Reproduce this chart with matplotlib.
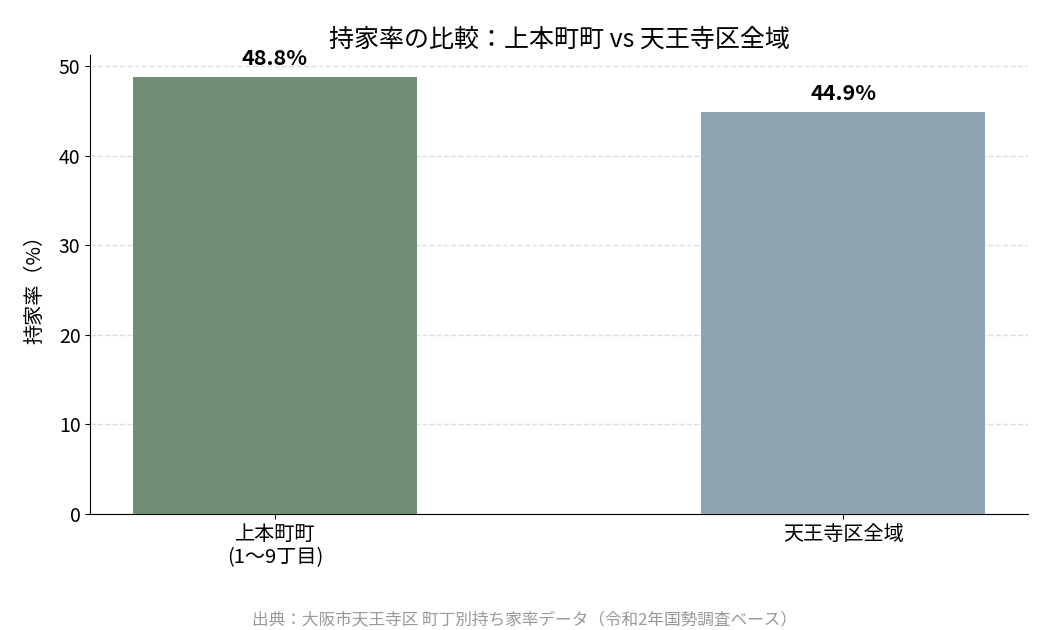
import matplotlib
matplotlib.use('Agg')
import matplotlib.pyplot as plt

plt.rcParams['font.family'] = ['Noto Sans CJK JP', 'DejaVu Sans']

# データ
categories = ['上本町町\n(1〜9丁目)', '天王寺区全域']
rates = [48.8, 44.9]
colors = ['#6f8e74', '#8fa4b2']

fig, ax = plt.subplots(figsize=(10.5, 6.3), dpi=100)

bars = ax.bar(range(len(categories)), rates, width=0.5, color=colors, zorder=3)

# 値ラベル
for b, v in zip(bars, rates):
    ax.text(b.get_x() + b.get_width() / 2, v + 0.9, f'{v}%',
            ha='center', va='bottom', fontsize=15.5, fontweight='bold')

ax.set_xticks(range(len(categories)))
ax.set_xticklabels(categories, fontsize=14.5, linespacing=1.15)
ax.tick_params(axis='y', labelsize=14)
ax.set_ylabel('持家率（%）', fontsize=14.5, labelpad=10)
ax.set_title('持家率の比較：上本町町 vs 天王寺区全域', fontsize=18, pad=6)

ax.yaxis.grid(True, linestyle='--', color='#dddddd', linewidth=1, zorder=0)
ax.spines['top'].set_visible(False)
ax.spines['right'].set_visible(False)

fig.text(0.5, 0.003, '出典：大阪市天王寺区 町丁別持ち家率データ（令和2年国勢調査ベース）',
         ha='center', va='bottom', fontsize=12, color='#999999')

plt.subplots_adjust(left=0.086, right=0.979, top=0.913, bottom=0.184)
plt.savefig('out.png', dpi=100)
